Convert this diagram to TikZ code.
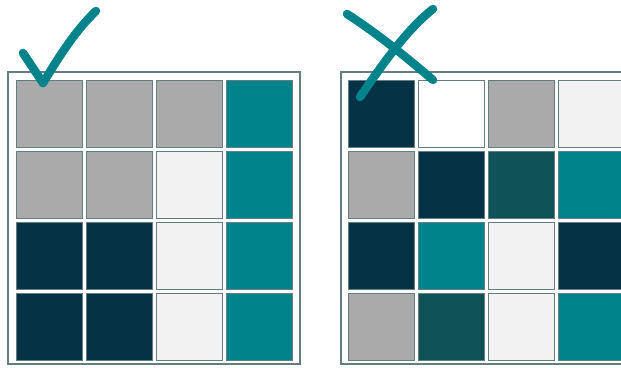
\documentclass[tikz,border=0pt]{standalone}
\usetikzlibrary{positioning}
\definecolor{tealc}{HTML}{00838A}
\definecolor{navyc}{HTML}{063246}
\definecolor{dtealc}{HTML}{0F5359}
\definecolor{greyc}{HTML}{AAAAAA}
\definecolor{lightc}{HTML}{F2F2F2}
\definecolor{cellline}{HTML}{627E80}

\begin{document}
\begin{tikzpicture}[x=1pt, y=-1pt,
	cell/.style={draw=cellline, line width=0.9pt, minimum width=66pt, minimum height=67pt, inner sep=0pt},
	frame/.style={draw=cellline, line width=1.3pt},
	pen/.style={draw=tealc, line width=8.5pt, line cap=round, line join=round}]
	\useasboundingbox (0,0) rectangle (621,367);
	\draw[frame] (8,72) rectangle (300,364);
	\draw[frame] (341,72) rectangle (633,364);
	\foreach \row [count=\r] in {{greyc,greyc,greyc,tealc},{greyc,greyc,lightc,tealc},{navyc,navyc,lightc,tealc},{navyc,navyc,lightc,tealc}}
		\foreach \col [count=\k] in \row
			\node[cell, fill=\col] (good\r\k) at ({49+70.3*(\k-1)}, {113.5+71*(\r-1)}) {};
	\foreach \row [count=\r] in {{navyc,white,greyc,lightc},{greyc,navyc,dtealc,tealc},{navyc,tealc,lightc,navyc},{greyc,dtealc,lightc,tealc}}
		\foreach \col [count=\k] in \row
			\node[cell, fill=\col] (bad\r\k) at ({381+70.3*(\k-1)}, {113.5+71*(\r-1)}) {};
	\draw[pen] (23,53) -- (43,83) .. controls (60,55) and (76,30) .. (96,11);
	\draw[pen] (347,14) .. controls (378,34) and (406,57) .. (433,80);
	\draw[pen] (433,9) .. controls (406,30) and (380,68) .. (360,97);
\end{tikzpicture}
\end{document}
